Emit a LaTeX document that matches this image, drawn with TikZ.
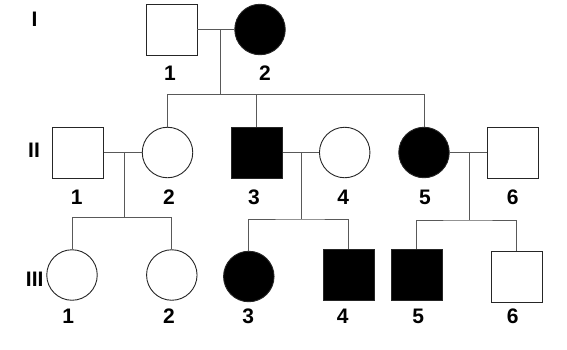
\documentclass[tikz,border=0pt]{standalone}
\usepackage{fontspec}
\setmainfont{Liberation Sans}
\usetikzlibrary{positioning}
\tikzset{
  male/.style={rectangle, draw=black!85, line width=0.9pt, minimum size=51pt, inner sep=0pt, fill=white},
  female/.style={circle, draw=black!85, line width=0.9pt, minimum size=50.5pt, inner sep=0pt, fill=white},
  affected/.style={fill=black},
  link/.style={draw=black!65, line width=0.9pt},
  num/.style={font=\fontsize{21}{25}\selectfont\bfseries, inner sep=0pt}
}
\begin{document}
\begin{tikzpicture}[x=1pt, y=-1pt]
            \useasboundingbox (0,0) rectangle (567,349);
            % generation I
            \node[male] (I1) at (171.5,29.5) {};
            \node[female, affected] (I2) at (260,29.5) {};
            % generation II
            \node[male] (II1) at (78.3,152.5) {};
            \node[female] (II2) at (167.5,152.5) {};
            \node[male, affected] (II3) at (256.8,152.5) {};
            \node[female] (II4) at (344.7,152.5) {};
            \node[female, affected] (II5) at (424,152.5) {};
            \node[male] (II6) at (512.5,152.5) {};
            % generation III
            \node[female] (III1) at (72,275) {};
            \node[female] (III2) at (171.8,275) {};
            \node[female, affected] (III3) at (248.8,276.5) {};
            \node[male, affected] (III4) at (348.8,275) {};
            \node[male, affected] (III5) at (416.8,275) {};
            \node[male] (III6) at (516.8,276.5) {};
            % couples and their children
            \coordinate (mI) at (220,29.5);
            \coordinate (sI) at (220,94.3);
            \draw[link] (I1) -- (I2);
            \draw[link] (mI) -- (sI);
            \draw[link] (II2.north) |- (sI) -| (II5.north);
            \draw[link] (II3.north) -- (II3.north |- sI);
            \coordinate (mII12) at (124.3,152.5);
            \coordinate (sII12) at (124.3,217.7);
            \draw[link] (II1) -- (II2);
            \draw[link] (mII12) -- (sII12);
            \draw[link] (III1.north) |- (sII12) -| (III2.north);
            \coordinate (mII34) at (301.7,152.5);
            \coordinate (sII34) at (301.7,219);
            \draw[link] (II3) -- (II4);
            \draw[link] (mII34) -- (sII34);
            \draw[link] (III3.north) |- (sII34) -| (III4.north);
            \coordinate (mII56) at (469.3,152.5);
            \coordinate (sII56) at (469.3,220);
            \draw[link] (II5) -- (II6);
            \draw[link] (mII56) -- (sII56);
            \draw[link] (III5.north) |- (sII56) -| (III6.north);
            % numbers
            \node[num] (nI1) at (170,73.5) {1};
            \node[num] (nI2) at (265,73.5) {2};
            \foreach \n/\x in {1/76.7, 2/169, 3/254, 4/343.3, 5/425, 6/512.7}
                \node[num] (nII\n) at (\x,197.3) {\n};
            \foreach \n/\x in {1/68.3, 2/169, 3/248.3, 4/342.7, 5/418.3, 6/512.7}
                \node[num] (nIII\n) at (\x,316.5) {\n};
            % generations
            \node[num] (gI) at (34.5,19) {I};
            \node[num] (gII) at (34,150) {II};
            \node[num] (gIII) at (34.7,279) {III};
        \end{tikzpicture}
\end{document}
